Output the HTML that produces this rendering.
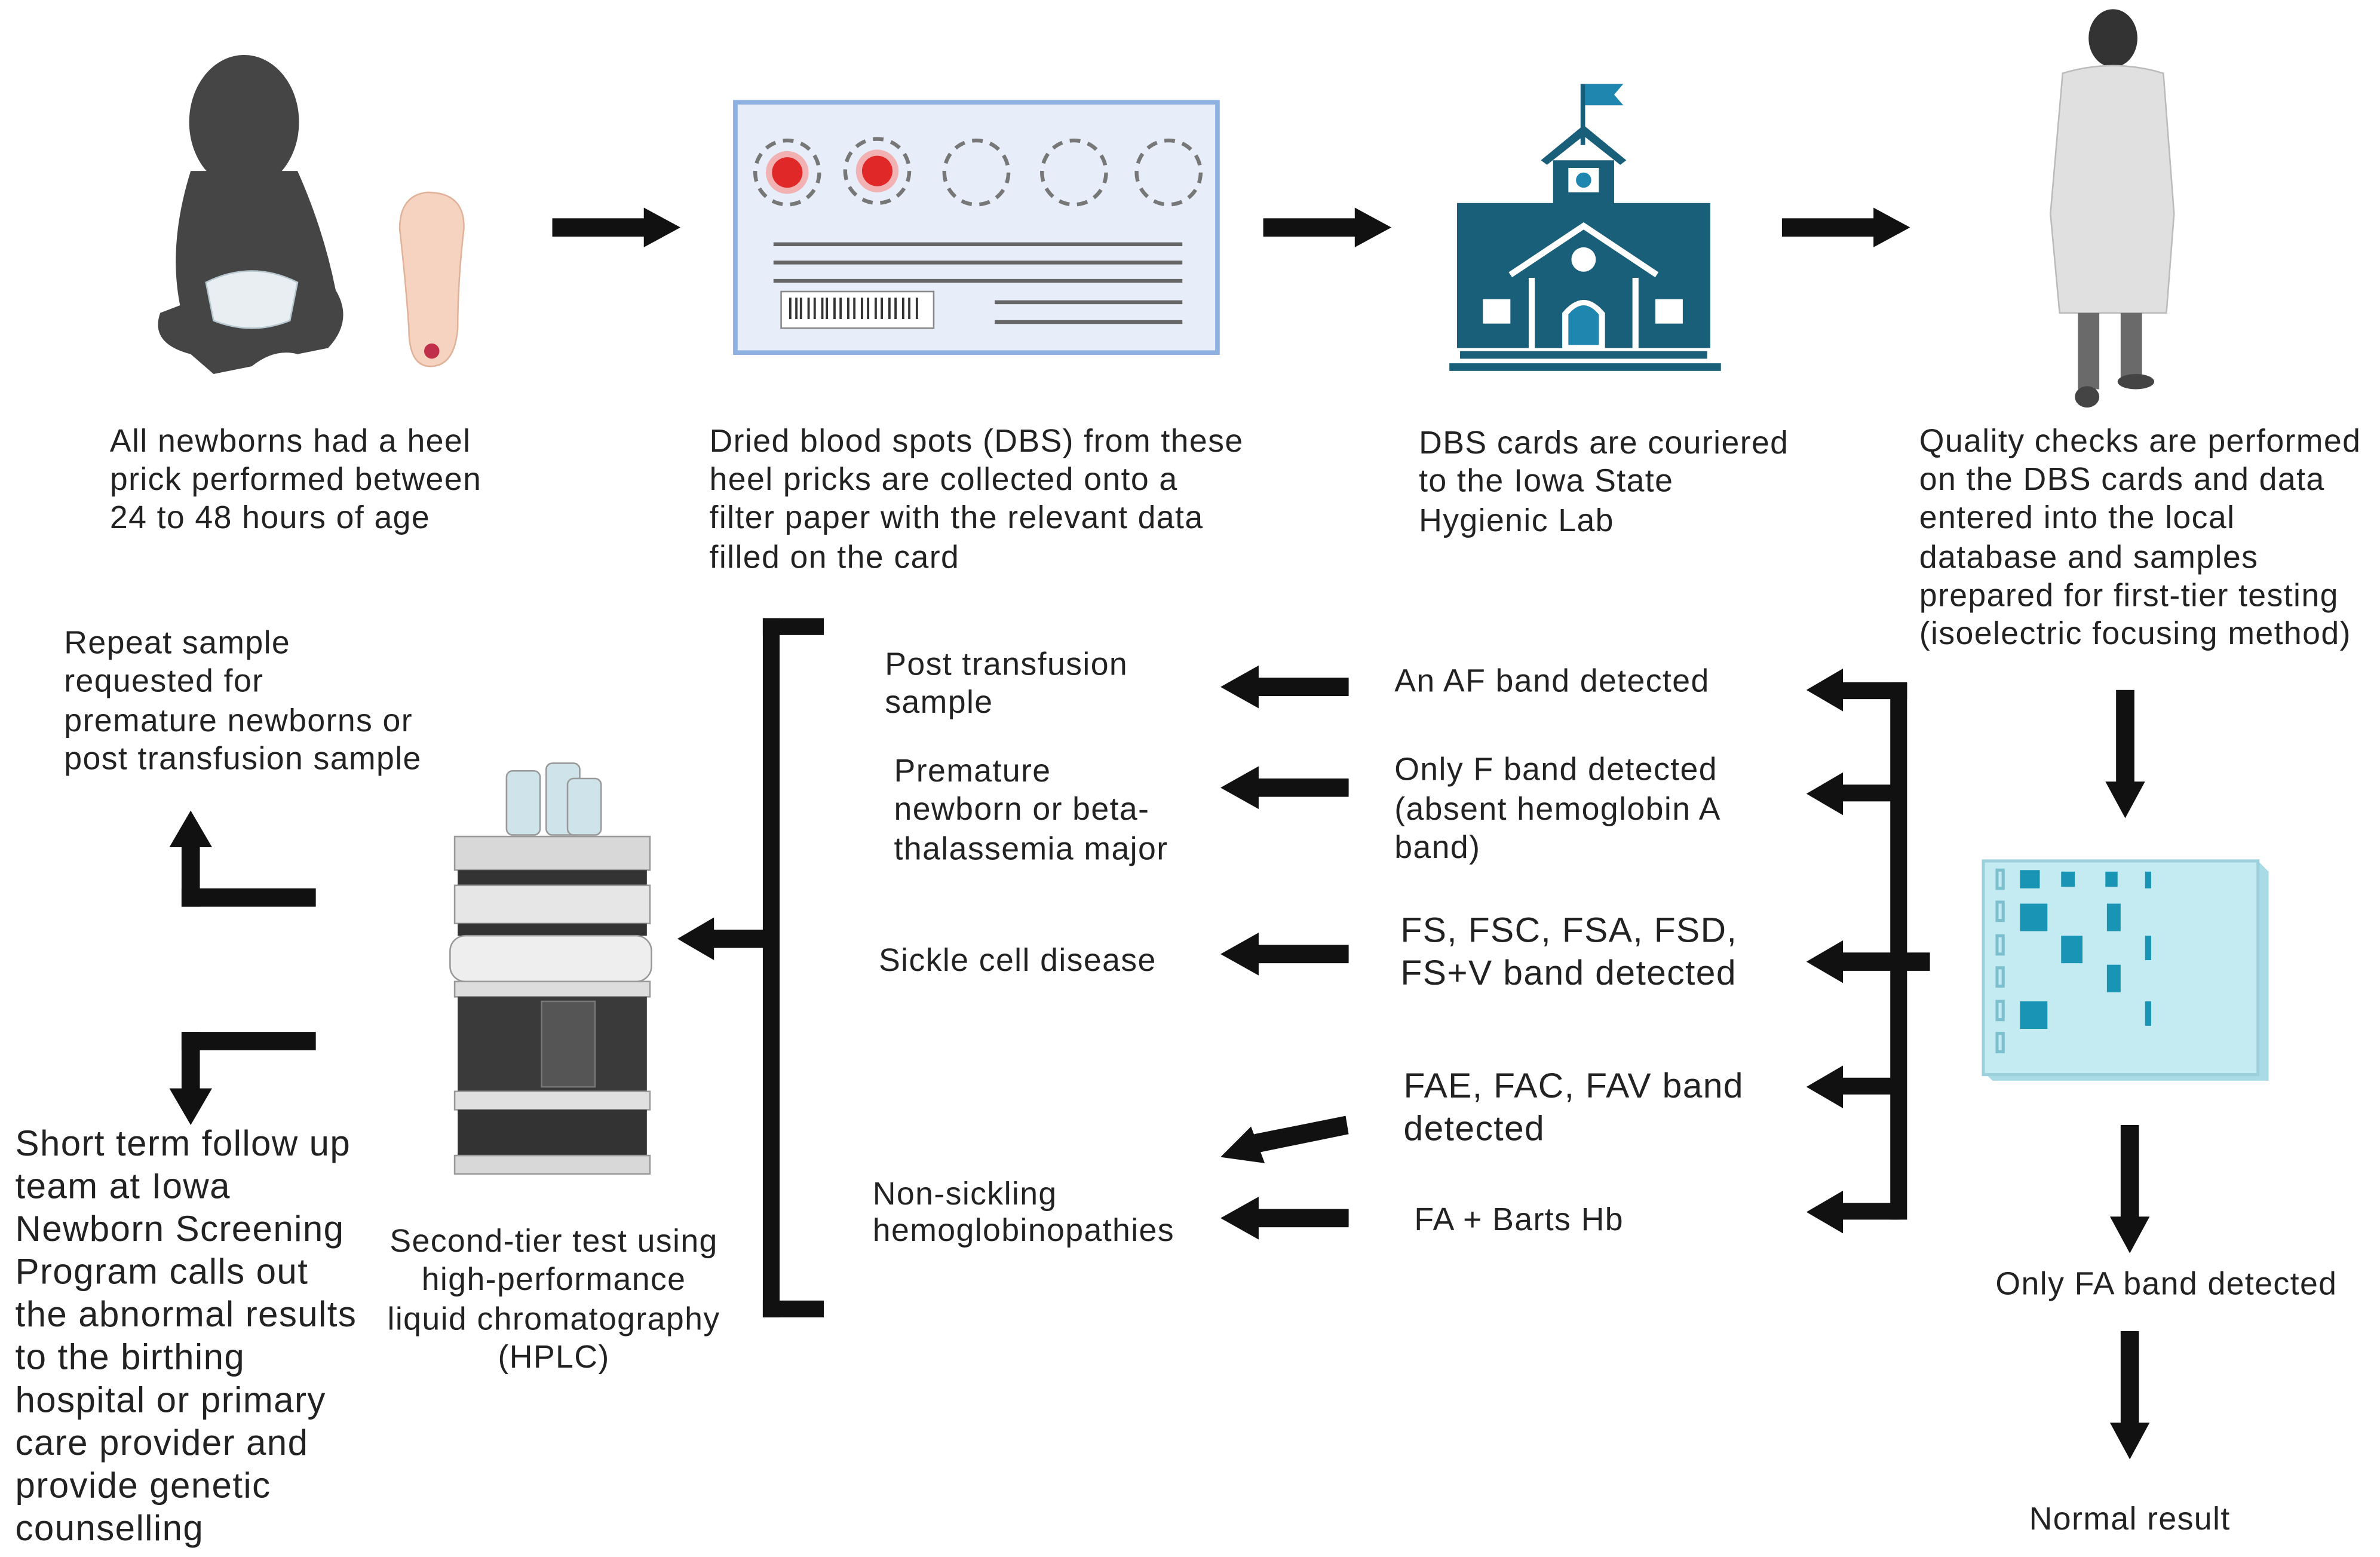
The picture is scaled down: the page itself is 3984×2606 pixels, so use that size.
<!DOCTYPE html>
<html><head><meta charset="utf-8"><style>
html,body{margin:0;padding:0;background:#fff;}
svg{display:block;}
text{font-family:"Liberation Sans","DejaVu Sans",sans-serif;font-size:21px;fill:#222;letter-spacing:0.55px;}
</style></head><body>
<svg width="3984" height="2606" viewBox="0 0 1560 1020" preserveAspectRatio="none" xmlns="http://www.w3.org/2000/svg">
<rect width="1560" height="1020" fill="#fff"/>
<g fill="#454545">
<ellipse cx="160" cy="80" rx="36" ry="44"/>
<path d="M125 112 Q110 160 118 200 L105 205 Q98 225 125 232 L140 245 L165 240 Q180 228 195 232 L215 228 Q232 210 220 190 Q212 150 195 112 Z"/>
</g>
<path d="M135 185 Q165 170 195 185 L190 210 Q165 220 140 210 Z" fill="#e8eef2" stroke="#b8c8d0"/>
<path d="M262 150 Q262 128 280 126 Q305 126 304 150 Q300 185 300 215 Q298 240 282 240 Q268 240 268 215 Q266 185 262 150 Z" fill="#f6d3c0" stroke="#e0b29a"/>
<circle cx="283" cy="230" r="5" fill="#c0304a"/>
<rect x="482" y="67" width="316" height="164" fill="#e7edf9" stroke="#8fb1e2" stroke-width="3"/>
<g fill="none" stroke="#777" stroke-width="2.5" stroke-dasharray="7 5">
<circle cx="516" cy="113" r="21"/><circle cx="575" cy="112" r="21"/><circle cx="640" cy="113" r="21"/><circle cx="704" cy="113" r="21"/><circle cx="766" cy="113" r="21"/>
</g>
<circle cx="516" cy="113" r="14" fill="#f2b2b4"/><circle cx="516" cy="113" r="10" fill="#e02828"/>
<circle cx="575" cy="112" r="14" fill="#f2b2b4"/><circle cx="575" cy="112" r="10" fill="#e02828"/>
<g stroke="#666" stroke-width="2.5">
<line x1="507" y1="160" x2="775" y2="160"/><line x1="507" y1="172" x2="775" y2="172"/><line x1="507" y1="184" x2="775" y2="184"/>
<line x1="652" y1="198" x2="775" y2="198"/><line x1="652" y1="211" x2="775" y2="211"/>
</g>
<rect x="512" y="191" width="100" height="24" fill="#fff" stroke="#888"/>
<g stroke="#333" stroke-width="1.5"><path d="M518 195v14M522 195v14M525 195v14M530 195v14M534 195v14M539 195v14M542 195v14M547 195v14M551 195v14M556 195v14M560 195v14M565 195v14M569 195v14M574 195v14M578 195v14M583 195v14M587 195v14M592 195v14M596 195v14M601 195v14"/></g>
<g fill="#1a5f7a">
<rect x="1036" y="55" width="3" height="40"/><path d="M1039 55 L1064 55 L1058 62 L1064 69 L1039 69 Z" fill="#1f86b0"/>
<path d="M1010 105 L1038 82 L1066 105 L1062 108 L1038 89 L1014 108 Z"/>
<rect x="1018" y="105" width="40" height="35"/>
<rect x="955" y="133" width="166" height="95"/>
<rect x="950" y="238" width="178" height="5"/>
<rect x="957" y="230" width="162" height="5"/>
</g>
<rect x="1028" y="110" width="20" height="16" fill="#fff"/><circle cx="1038" cy="118" r="5" fill="#1f86b0"/>
<path d="M990 180 L1038 148 L1086 180" fill="none" stroke="#fff" stroke-width="4"/>
<rect x="1002" y="182" width="4" height="46" fill="#fff"/><rect x="1070" y="182" width="4" height="46" fill="#fff"/>
<circle cx="1038" cy="170" r="8" fill="#fff"/>
<path d="M1024 228 V205 Q1038 188 1052 205 V228 Z" fill="#fff"/><path d="M1028 226 V206 Q1038 194 1048 206 V226 Z" fill="#1f86b0"/>
<rect x="972" y="196" width="18" height="16" fill="#fff"/><rect x="1085" y="196" width="18" height="16" fill="#fff"/>
<ellipse cx="1385" cy="25" rx="16" ry="19" fill="#333"/>
<path d="M1352 48 Q1385 38 1418 48 L1425 140 L1420 205 L1350 205 L1344 140 Z" fill="#e0e0e0" stroke="#bbb"/>
<rect x="1362" y="205" width="14" height="50" fill="#6a6a6a"/><rect x="1390" y="205" width="14" height="45" fill="#6a6a6a"/>
<ellipse cx="1368" cy="260" rx="8" ry="7" fill="#444"/><ellipse cx="1400" cy="250" rx="12" ry="5" fill="#444"/>
<path d="M1300 564 L1480 564 L1487 571 L1487 708 L1306 708 L1300 702 Z" fill="#a8dbe6"/>
<rect x="1300" y="564" width="180" height="140" fill="#c5ebf2" stroke="#9bd0dc" stroke-width="2"/>
<g fill="#1a94b5">
<rect x="1324" y="570" width="13" height="12"/><rect x="1351" y="571" width="9" height="10"/><rect x="1380" y="571" width="8" height="10"/><rect x="1406" y="571" width="4" height="11"/>
<rect x="1324" y="592" width="18" height="18"/><rect x="1381" y="592" width="9" height="18"/>
<rect x="1351" y="613" width="14" height="18"/><rect x="1406" y="613" width="4" height="16"/>
<rect x="1381" y="632" width="9" height="18"/>
<rect x="1324" y="656" width="18" height="18"/><rect x="1406" y="656" width="4" height="16"/>
</g>
<g fill="none" stroke="#7cc0d0" stroke-width="2"><rect x="1309" y="570" width="4" height="12"/><rect x="1309" y="591" width="4" height="12"/><rect x="1309" y="613" width="4" height="12"/><rect x="1309" y="634" width="4" height="12"/><rect x="1309" y="656" width="4" height="12"/><rect x="1309" y="677" width="4" height="12"/></g>
<g>
<rect x="332" y="505" width="22" height="42" rx="4" fill="#cfe3ea" stroke="#999"/><rect x="358" y="500" width="22" height="47" rx="4" fill="#cfe3ea" stroke="#999"/><rect x="372" y="510" width="22" height="37" rx="4" fill="#cfe3ea" stroke="#999"/>
<rect x="298" y="548" width="128" height="22" fill="#d8d8d8" stroke="#999"/>
<rect x="300" y="570" width="124" height="10" fill="#333"/>
<rect x="298" y="580" width="128" height="25" fill="#e6e6e6" stroke="#999"/>
<rect x="300" y="605" width="124" height="8" fill="#333"/>
<rect x="295" y="613" width="132" height="30" rx="10" fill="#eeeeee" stroke="#999"/>
<rect x="298" y="643" width="128" height="10" fill="#ddd" stroke="#999"/>
<rect x="300" y="653" width="124" height="62" fill="#3a3a3a"/>
<rect x="355" y="656" width="35" height="56" fill="#555" stroke="#777"/>
<rect x="298" y="715" width="128" height="12" fill="#e0e0e0" stroke="#999"/>
<rect x="300" y="727" width="124" height="30" fill="#333"/>
<rect x="298" y="757" width="128" height="12" fill="#d8d8d8" stroke="#999"/>
</g>
<g fill="#111" stroke="none">
<rect x="362" y="143" width="63" height="12"/><polygon points="422,136 446,149 422,162"/>
<rect x="828" y="143" width="63" height="12"/><polygon points="888,136 912,149 888,162"/>
<rect x="1168" y="143" width="63" height="12"/><polygon points="1228,136 1252,149 1228,162"/>
<rect x="1387" y="452" width="12" height="63"/><polygon points="1380,512 1393,536 1406,512"/>
<rect x="1390" y="737" width="12" height="63"/><polygon points="1383,797 1396,821 1409,797"/>
<rect x="1390" y="872" width="12" height="63"/><polygon points="1383,932 1396,956 1409,932"/>
<rect x="1239" y="447" width="11" height="352"/>
<rect x="1205" y="447" width="45" height="11"/><polygon points="1208,438 1184,452 1208,466"/>
<rect x="1205" y="514" width="40" height="11"/><polygon points="1208,506 1184,520 1208,534"/>
<rect x="1205" y="624" width="60" height="12"/><polygon points="1208,616 1184,630 1208,644"/>
<rect x="1205" y="706" width="40" height="11"/><polygon points="1208,698 1184,712 1208,726"/>
<rect x="1205" y="788" width="40" height="11"/><polygon points="1208,780 1184,794 1208,808"/>
<rect x="822" y="444" width="62" height="12"/><polygon points="825,436 800,450 825,464"/>
<rect x="822" y="510" width="62" height="12"/><polygon points="825,502 800,516 825,530"/>
<rect x="822" y="619" width="62" height="12"/><polygon points="825,611 800,625 825,639"/>
<rect x="822" y="792" width="62" height="12"/><polygon points="825,784 800,798 825,812"/>
<polygon points="822,743 882,731 884,743 825,755"/><polygon points="820,738 800,758 829,762"/>
<rect x="500" y="405" width="11" height="458"/>
<rect x="500" y="405" width="40" height="11"/><rect x="500" y="852" width="40" height="11"/>
<rect x="465" y="609" width="40" height="12"/><polygon points="468,601 444,615 468,629"/>
<rect x="119" y="582" width="88" height="12"/><rect x="119" y="552" width="12" height="42"/><polygon points="111,555 125,531 139,555"/>
<rect x="119" y="676" width="88" height="12"/><rect x="119" y="676" width="12" height="40"/><polygon points="111,713 125,737 139,713"/>
</g>
<text x="72" y="296">All newborns had a heel</text>
<text x="72" y="321">prick performed between</text>
<text x="72" y="346">24 to 48 hours of age</text>
<text x="465" y="296">Dried blood spots (DBS) from these</text>
<text x="465" y="321">heel pricks are collected onto a</text>
<text x="465" y="346">filter paper with the relevant data</text>
<text x="465" y="372">filled on the card</text>
<text x="930" y="297">DBS cards are couriered</text>
<text x="930" y="322">to the Iowa State</text>
<text x="930" y="348">Hygienic Lab</text>
<text x="1258" y="296">Quality checks are performed</text>
<text x="1258" y="321">on the DBS cards and data</text>
<text x="1258" y="346">entered into the local</text>
<text x="1258" y="372">database and samples</text>
<text x="1258" y="397">prepared for first-tier testing</text>
<text x="1258" y="422">(isoelectric focusing method)</text>
<text x="42" y="428">Repeat sample</text>
<text x="42" y="453">requested for</text>
<text x="42" y="479">premature newborns or</text>
<text x="42" y="504">post transfusion sample</text>
<text x="580" y="442">Post transfusion</text>
<text x="580" y="467">sample</text>
<text x="586" y="512">Premature</text>
<text x="586" y="537">newborn or beta-</text>
<text x="586" y="563">thalassemia major</text>
<text x="576" y="636">Sickle cell disease</text>
<text x="572" y="789">Non-sickling</text>
<text x="572" y="813">hemoglobinopathies</text>
<text x="914" y="453">An AF band detected</text>
<text x="914" y="511">Only F band detected</text>
<text x="914" y="537">(absent hemoglobin A</text>
<text x="914" y="562">band)</text>
<text x="918" y="617" style="font-size:23px">FS, FSC, FSA, FSD,</text>
<text x="918" y="645" style="font-size:23px">FS+V band detected</text>
<text x="920" y="719" style="font-size:23px">FAE, FAC, FAV band</text>
<text x="920" y="747" style="font-size:23px">detected</text>
<text x="927" y="806">FA + Barts Hb</text>
<g text-anchor="middle">
<text x="363" y="820">Second-tier test using</text>
<text x="363" y="845">high-performance</text>
<text x="363" y="871">liquid chromatography</text>
<text x="363" y="896">(HPLC)</text>
</g>
<text x="10" y="757" style="font-size:23.5px">Short term follow up</text>
<text x="10" y="785" style="font-size:23.5px">team at Iowa</text>
<text x="10" y="813" style="font-size:23.5px">Newborn Screening</text>
<text x="10" y="841" style="font-size:23.5px">Program calls out</text>
<text x="10" y="869" style="font-size:23.5px">the abnormal results</text>
<text x="10" y="897" style="font-size:23.5px">to the birthing</text>
<text x="10" y="925" style="font-size:23.5px">hospital or primary</text>
<text x="10" y="953" style="font-size:23.5px">care provider and</text>
<text x="10" y="981" style="font-size:23.5px">provide genetic</text>
<text x="10" y="1009" style="font-size:23.5px">counselling</text>
<text x="1308" y="848">Only FA band detected</text>
<text x="1330" y="1002">Normal result</text>
</svg>
</body></html>
